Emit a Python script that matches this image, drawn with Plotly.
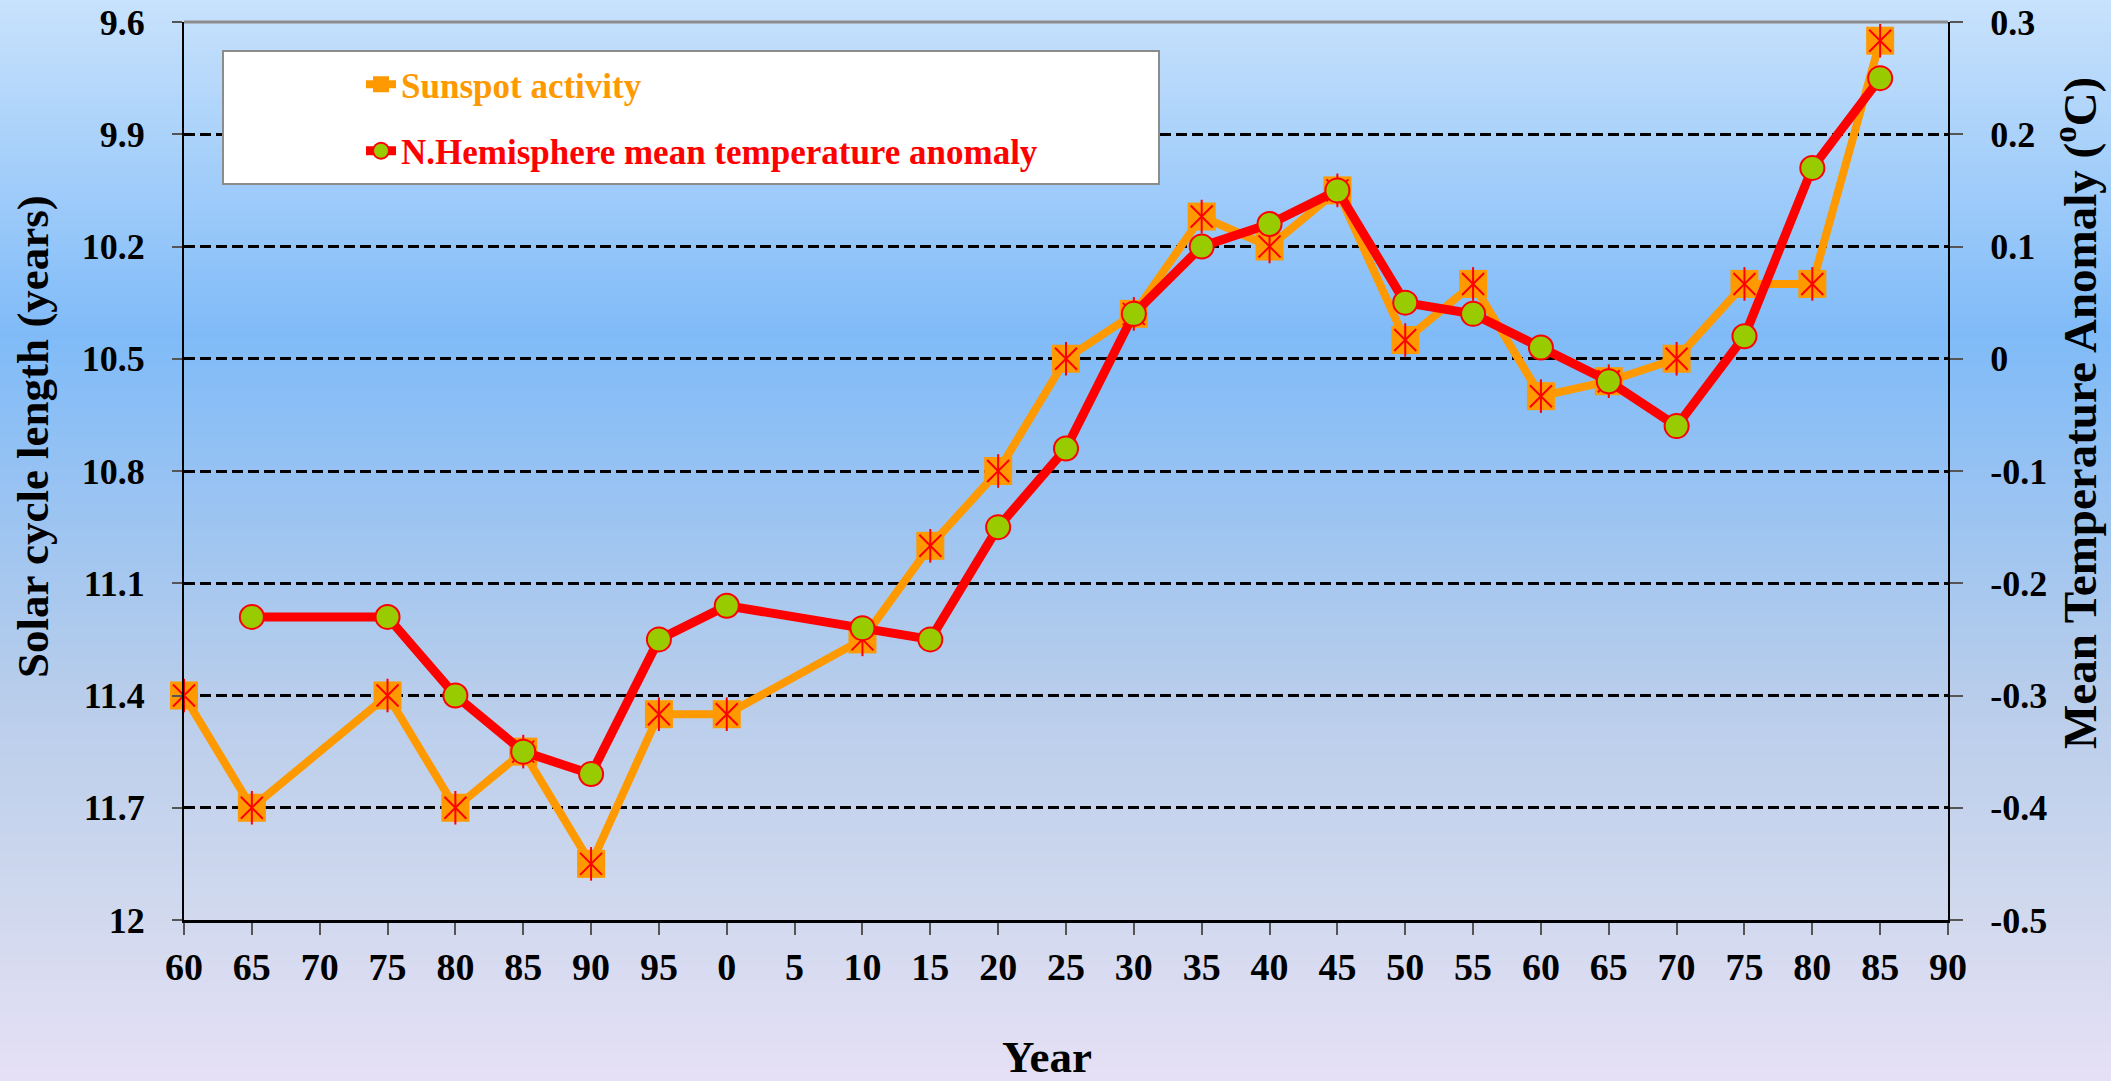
import base64
import struct
import zlib

import plotly.graph_objects as go

# ---- data ----
sun_years = [1860, 1865, 1875, 1880, 1885, 1890, 1895, 1900, 1910, 1915,
             1920, 1925, 1930, 1935, 1940, 1945, 1950, 1955, 1960, 1965,
             1970, 1975, 1980, 1985]
sun_cycle = [11.4, 11.7, 11.4, 11.7, 11.55, 11.85, 11.45, 11.45, 11.25, 11.0,
             10.8, 10.5, 10.38, 10.12, 10.2, 10.05, 10.45, 10.3, 10.6, 10.56,
             10.5, 10.3, 10.3, 9.65]

temp_years = [1865, 1875, 1880, 1885, 1890, 1895, 1900, 1910, 1915,
              1920, 1925, 1930, 1935, 1940, 1945, 1950, 1955, 1960, 1965,
              1970, 1975, 1980, 1985]
temp_anom = [-0.23, -0.23, -0.30, -0.35, -0.37, -0.25, -0.22, -0.24, -0.25,
             -0.15, -0.08, 0.04, 0.10, 0.12, 0.15, 0.05, 0.04, 0.01, -0.02,
             -0.06, 0.02, 0.17, 0.25]

x_tickvals = list(range(1860, 1991, 5))
x_ticktext = ["60", "65", "70", "75", "80", "85", "90", "95", "0", "5", "10",
              "15", "20", "25", "30", "35", "40", "45", "50", "55", "60",
              "65", "70", "75", "80", "85", "90"]

y_tickvals = [9.6, 9.9, 10.2, 10.5, 10.8, 11.1, 11.4, 11.7, 12]
y_ticktext = ["9.6", "9.9", "10.2", "10.5", "10.8", "11.1", "11.4", "11.7", "12"]

y2_tickvals = [-0.5, -0.4, -0.3, -0.2, -0.1, 0, 0.1, 0.2, 0.3]
y2_ticktext = ["-0.5", "-0.4", "-0.3", "-0.2", "-0.1", "0", "0.1", "0.2", "0.3"]

W, H = 2111, 1081
L, R, T, B = 184, 163, 22, 161
PW, PH = W - L - R, H - T - B

ORANGE = "#FF9900"
RED = "#FF0000"
GREEN = "#99CC00"
FONT = "Liberation Serif"


def gradient_png(stops, height):
    # 1px wide vertical gradient as png data uri
    rows = b""
    for i in range(height):
        f = i / (height - 1)
        for j in range(len(stops) - 1):
            f0, c0 = stops[j]
            f1, c1 = stops[j + 1]
            if f0 <= f <= f1:
                t = (f - f0) / (f1 - f0)
                rgb = [round(a + (b - a) * t) for a, b in zip(c0, c1)]
                break
        rows += b"\x00" + bytes(rgb)

    def chunk(tag, data):
        c = struct.pack(">I", len(data)) + tag + data
        return c + struct.pack(">I", zlib.crc32(tag + data) & 0xFFFFFFFF)

    png = b"\x89PNG\r\n\x1a\n"
    png += chunk(b"IHDR", struct.pack(">IIBBBBB", 1, height, 8, 2, 0, 0, 0))
    png += chunk(b"IDAT", zlib.compress(rows))
    png += chunk(b"IEND", b"")
    return "data:image/png;base64," + base64.b64encode(png).decode()


bg = gradient_png([(0.0, (200, 226, 252)), (0.31, (128, 187, 248)),
                   (0.64, (184, 205, 235)), (0.83, (207, 216, 238)),
                   (1.0, (230, 224, 245))], 400)

fig = go.Figure()

fig.add_trace(go.Scatter(
    x=sun_years, y=sun_cycle, name='<span style="color:#FF9900">Sunspot activity</span>',
    mode="lines+markers", line=dict(color=ORANGE, width=8),
    marker=dict(symbol="square", size=28, color=ORANGE),
    legendgroup="a", cliponaxis=False, yaxis="y"))
# red asterisk on the squares
fig.add_trace(go.Scatter(
    x=sun_years, y=sun_cycle, mode="markers", showlegend=False, hoverinfo="skip",
    marker=dict(symbol="x-thin-open", size=22, color=RED, line=dict(color=RED, width=2)),
    cliponaxis=False, yaxis="y"))
fig.add_trace(go.Scatter(
    x=sun_years, y=sun_cycle, mode="markers", showlegend=False, hoverinfo="skip",
    marker=dict(symbol="line-ns-open", size=24, color=RED, line=dict(color=RED, width=2)),
    cliponaxis=False, yaxis="y"))

fig.add_trace(go.Scatter(
    x=temp_years, y=temp_anom,
    name='<span style="color:#FF0000">N.Hemisphere mean temperature anomaly</span>',
    mode="lines+markers", line=dict(color=RED, width=9),
    marker=dict(symbol="circle", size=24, color=GREEN, line=dict(color=RED, width=2)),
    legendgroup="b", cliponaxis=False, yaxis="y2"))

tick_font = dict(family=FONT, size=36, color="black", weight="bold")
title_font = dict(family=FONT, size=45, color="black", weight="bold")

fig.update_layout(
    width=W, height=H,
    margin=dict(l=L, r=R, t=T, b=B, autoexpand=False),
    paper_bgcolor="#C8DCF4",
    plot_bgcolor="rgba(0,0,0,0)",
    showlegend=True,
    legend=dict(x=(361 - L) / PW, y=(H - B - 55) / PH, xanchor="left", yanchor="top",
                bgcolor="rgba(0,0,0,0)", borderwidth=0, traceorder="grouped",
                tracegroupgap=18, font=dict(family=FONT, size=35, weight="bold")),
    xaxis=dict(range=[1860, 1990], tickvals=x_tickvals, ticktext=x_ticktext,
               showgrid=False, zeroline=False, showline=True, linecolor="black",
               linewidth=2.5, ticks="outside", ticklen=12, tickwidth=1.5,
               tickcolor="#555555", tickfont=dict(tick_font, size=38),
               ticklabelstandoff=0, automargin=False),
    yaxis=dict(range=[12, 9.6], tickvals=y_tickvals, ticktext=y_ticktext,
               showgrid=True, gridcolor="black", gridwidth=2.5, griddash="11px,5px",
               zeroline=False, showline=True, linecolor="black", linewidth=2,
               ticks="outside", ticklen=10, tickwidth=1.5, tickcolor="#555555",
               tickfont=tick_font, ticklabelstandoff=20, automargin=False),
    yaxis2=dict(range=[-0.5, 0.3], tickvals=y2_tickvals, ticktext=y2_ticktext,
                overlaying="y", side="right",
                showgrid=False, zeroline=False, showline=True, linecolor="black",
                linewidth=2, ticks="outside", ticklen=13, tickwidth=1.5,
                tickcolor="#555555", tickfont=tick_font, ticklabelstandoff=20,
                automargin=False),
    images=[dict(source=bg, xref="paper", yref="paper", x=-L / PW, y=1 + T / PH,
                 sizex=W / PW, sizey=H / PH, xanchor="left", yanchor="top",
                 sizing="stretch", layer="below")],
    shapes=[
        dict(type="line", xref="paper", yref="paper", x0=0, x1=1, y0=1, y1=1,
             line=dict(color="#8C8C8C", width=3)),
        dict(type="rect", xref="paper", yref="paper",
             x0=(223 - L) / PW, x1=(1159 - L) / PW,
             y0=(H - B - 184) / PH, y1=(H - B - 51) / PH,
             fillcolor="white", line=dict(color="#8C8C8C", width=2)),
    ],
    annotations=[
        dict(text="Solar cycle length (years)", xref="paper", yref="paper",
             x=(33 - L) / PW, y=(H - B - 437) / PH, textangle=-90,
             xanchor="center", yanchor="middle", showarrow=False, font=title_font),
        dict(text="Mean Temperature Anomaly (<sup>o</sup>C)", xref="paper", yref="paper",
             x=(2076 - L) / PW, y=(H - B - 413) / PH, textangle=-90,
             xanchor="center", yanchor="middle", showarrow=False,
             font=dict(title_font, size=47)),
        dict(text="Year", xref="paper", yref="paper",
             x=(1047 - L) / PW, y=(H - B - 1057) / PH,
             xanchor="center", yanchor="middle", showarrow=False, font=title_font),
    ],
)

fig.write_html("out.html", config={"displayModeBar": False},
               post_script="document.body.style.margin='0';")
